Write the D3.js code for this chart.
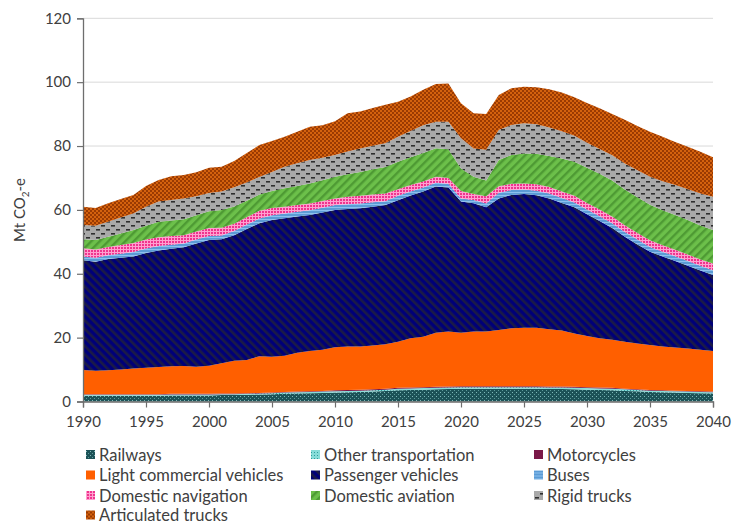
<!DOCTYPE html>
<html><head><meta charset="utf-8">
<script src="https://cdn.jsdelivr.net/npm/d3@7"></script>
<style>
body{margin:0;background:#fff;}
svg{display:block;font-family:Lato,"Liberation Sans",Arial,sans-serif;}
</style>
</head><body>
<svg id="chart" width="732" height="524"></svg>
<script>
const years = [1990,1991,1992,1993,1994,1995,1996,1997,1998,1999,
2000,2001,2002,2003,2004,2005,2006,2007,2008,2009,
2010,2011,2012,2013,2014,2015,2016,2017,2018,2019,
2020,2021,2022,2023,2024,2025,2026,2027,2028,2029,
2030,2031,2032,2033,2034,2035,2036,2037,2038,2039,2040];

const railways = [1.8,1.8,1.8,1.8,1.8,1.8,1.8,1.9,1.9,1.9, 1.9,2.0,2.0,2.1,2.2,2.3,2.4,2.5,2.6,2.7, 2.8,2.9,3.0,3.1,3.3,3.5,3.6,3.7,3.8,3.9, 4.0,4.0,4.0,4.0,4.0,4.0,4.0,3.9,3.9,3.8, 3.7,3.6,3.5,3.3,3.2,3.0,2.9,2.8,2.7,2.6, 2.5];
const otherTransport = [0.3,0.3,0.3,0.3,0.3,0.3,0.3,0.3,0.3,0.3, 0.3,0.3,0.3,0.3,0.3,0.3,0.4,0.4,0.4,0.4, 0.4,0.4,0.4,0.4,0.4,0.5,0.5,0.5,0.5,0.5, 0.5,0.5,0.5,0.5,0.5,0.5,0.5,0.5,0.5,0.5, 0.5,0.5,0.5,0.5,0.4,0.4,0.4,0.4,0.4,0.4, 0.4];
const motorcycles = [0.2,0.2,0.2,0.2,0.2,0.2,0.2,0.2,0.2,0.2, 0.2,0.2,0.2,0.2,0.2,0.2,0.2,0.2,0.2,0.2, 0.3,0.3,0.3,0.3,0.3,0.3,0.3,0.3,0.3,0.3, 0.3,0.3,0.3,0.3,0.3,0.3,0.3,0.3,0.3,0.3, 0.3,0.3,0.3,0.2,0.2,0.2,0.2,0.2,0.2,0.2, 0.2];
const lightCommercial = [7.6,7.3,7.5,7.7,8.0,8.3,8.5,8.6,8.7,8.5, 8.8,9.5,10.3,10.4,11.5,11.2,11.3,12.2,12.6,12.9, 13.5,13.6,13.5,13.7,13.9,14.4,15.4,15.8,16.9,17.2, 16.7,17.1,17.1,17.6,18.1,18.3,18.3,17.9,17.5,16.7, 16.0,15.4,15.0,14.7,14.4,14.1,13.7,13.5,13.3,13.0, 12.7];
const passenger = [34.3,34.2,34.8,35.0,35.1,35.9,36.5,36.8,37.2,38.6, 39.4,38.8,39.3,41.0,41.6,42.8,43.1,42.6,42.6,43.0, 43.0,43.1,43.3,43.5,43.6,44.3,44.7,45.5,45.8,45.1, 41.1,40.2,38.9,41.2,41.8,41.9,41.5,41.0,40.0,39.5, 38.1,36.7,35.0,32.9,31.0,29.2,28.2,27.1,25.9,24.8, 23.8];
const buses = [1.2,1.2,1.2,1.3,1.4,1.4,1.4,1.3,1.2,1.2, 1.2,1.2,1.3,1.4,1.5,1.5,1.5,1.5,1.5,1.5, 1.5,1.5,1.5,1.4,1.2,1.4,1.3,1.2,1.2,1.2, 1.0,1.0,1.2,1.8,1.5,1.4,1.4,1.5,1.5,1.5, 1.5,1.5,1.5,1.5,1.5,1.5,1.5,1.5,1.5,1.5, 1.5];
const navigation = [2.6,2.6,2.6,2.7,2.8,2.8,2.7,2.7,2.6,2.5, 2.5,2.4,2.3,2.3,2.4,2.3,2.1,2.1,2.1,2.1, 2.1,2.3,2.4,2.4,2.4,2.1,2.0,1.9,1.9,1.8, 2.3,1.9,2.3,2.0,2.0,1.9,2.0,2.1,2.1,2.1, 2.1,2.1,2.1,2.1,2.1,2.1,2.0,2.0,2.0,2.0, 2.1];
const aviation = [2.8,3.0,3.2,3.6,4.1,4.3,4.9,4.9,5.0,5.1, 5.3,5.6,5.4,5.2,5.1,5.3,5.8,6.0,6.3,6.5, 6.8,7.1,7.5,7.9,8.3,8.6,8.7,8.9,8.9,9.0, 7.1,5.4,4.9,8.2,9.0,9.4,9.6,9.7,10.3,10.7, 11.0,11.2,11.3,11.2,11.2,11.1,11.0,10.9,10.8,10.6, 10.5];
const rigidTrucks = [4.5,4.4,4.7,5.0,5.2,6.0,6.3,6.4,6.5,6.0, 5.7,5.8,6.0,5.7,5.5,6.0,6.7,7.1,7.3,7.0, 6.8,7.1,7.3,7.4,7.5,7.8,8.2,8.7,8.3,8.6, 9.4,8.8,9.6,9.4,9.4,9.4,9.2,8.9,8.5,8.1, 7.8,7.8,7.9,8.1,8.4,8.8,9.1,9.4,9.7,10.0, 10.4];
const articulated = [5.7,5.6,5.8,5.8,5.8,6.5,6.8,7.4,7.3,7.5, 7.9,7.7,8.2,9.2,10.0,9.7,9.4,9.9,10.4,10.2, 10.6,12.0,11.6,11.8,12.0,11.0,10.8,11.1,11.8,12.0, 11.0,11.1,11.2,11.0,11.5,11.5,11.6,12.0,12.2,12.1, 12.5,12.7,12.9,13.7,13.9,14.1,13.9,13.5,13.3,13.1, 12.4];

const seriesNames = ["Railways","Other transportation","Motorcycles","Light commercial vehicles","Passenger vehicles","Buses","Domestic navigation","Domestic aviation","Rigid trucks","Articulated trucks"];
const seriesValues = [railways, otherTransport, motorcycles, lightCommercial, passenger, buses, navigation, aviation, rigidTrucks, articulated];
const yTicks = [0,20,40,60,80,100,120];
const xTicks = [1990,1995,2000,2005,2010,2015,2020,2025,2030,2035,2040];

const svg = d3.select("#chart");
const defs = svg.append("defs");

function pat(id, w, h, bg, draw, transform){
  const p = defs.append("pattern").attr("id", id).attr("patternUnits","userSpaceOnUse")
    .attr("width", w).attr("height", h);
  if (transform) p.attr("patternTransform", transform);
  p.append("rect").attr("width", w).attr("height", h).attr("fill", bg);
  draw(p);
}
pat("p0", 4, 4, "#1c5257", p => {
  p.append("rect").attr("x",0).attr("y",0).attr("width",1).attr("height",1).attr("fill","#7fb8b8");
  p.append("rect").attr("x",2).attr("y",2).attr("width",1).attr("height",1).attr("fill","#5a9a9a");
});
pat("p1", 3, 3, "#86dcd8", p => {
  p.append("rect").attr("x",0).attr("y",0).attr("width",1).attr("height",1).attr("fill","#2f9c9c");
});
pat("p4", 6, 6, "#000078", p => {
  p.append("rect").attr("x",0).attr("y",0).attr("width",2.6).attr("height",6).attr("fill","#1b1b46");
}, "rotate(-45)");
pat("p5", 3, 3, "#5b9bd5", p => {
  p.append("rect").attr("x",0).attr("y",0).attr("width",3).attr("height",1).attr("fill","#8cc0ee");
});
pat("p6", 3, 3, "#f0348e", p => {
  p.append("rect").attr("x",0).attr("y",0).attr("width",3).attr("height",1).attr("fill","#ff9fcf");
  p.append("rect").attr("x",0).attr("y",0).attr("width",1).attr("height",3).attr("fill","#ff9fcf");
});
pat("p7", 6, 6, "#6cc04a", p => {
  p.append("rect").attr("x",0).attr("y",0).attr("width",2.4).attr("height",6).attr("fill","#4e9a34");
}, "rotate(45)");
pat("p8", 10, 8, "#a9a9a9", p => {
  p.append("rect").attr("x",1).attr("y",1).attr("width",4).attr("height",1.6).attr("fill","#2e2e2e");
  p.append("rect").attr("x",6).attr("y",5).attr("width",4).attr("height",1.6).attr("fill","#2e2e2e");
});
pat("p9", 4, 4, "#d4620e", p => {
  p.append("rect").attr("x",0).attr("y",0).attr("width",2).attr("height",2).attr("fill","#9a3a02");
  p.append("rect").attr("x",2).attr("y",2).attr("width",2).attr("height",2).attr("fill","#9a3a02");
});
const fills = ["url(#p0)","url(#p1)","#7a1848","#ff5f00","url(#p4)","url(#p5)","url(#p6)","url(#p7)","url(#p8)","url(#p9)"];

const rows = years.map((yr, i) => {
  const r = {year: yr};
  seriesNames.forEach((n, k) => r[n] = seriesValues[k][i]);
  return r;
});
const stacked = d3.stack().keys(seriesNames)(rows);

const x = d3.scaleLinear().domain([1990, 2040]).range([83, 713]);
const y = d3.scaleLinear().domain([0, 120]).range([401.5, 18.3]);

// gridlines
svg.append("g").selectAll("line").data(yTicks.filter(d => d > 0)).join("line")
  .attr("x1", 83).attr("x2", 713).attr("y1", d => y(d)).attr("y2", d => y(d))
  .attr("stroke", "#d9d9d9").attr("stroke-width", 1);

const area = d3.area().x(d => x(d.data.year)).y0(d => y(d[0])).y1(d => y(d[1]));
svg.append("g").selectAll("path").data(stacked).join("path")
  .attr("d", area).attr("fill", (d, i) => fills[i]);

// axes
const yAxis = svg.append("g").attr("transform", "translate(83,0)")
  .call(d3.axisLeft(y).tickValues(yTicks).tickSize(6).tickPadding(6));
const xAxis = svg.append("g").attr("transform", "translate(0,401.5)")
  .call(d3.axisBottom(x).tickValues(xTicks).tickFormat(d3.format("d")).tickSize(6).tickPadding(9));
[yAxis, xAxis].forEach(g => {
  g.select(".domain").attr("stroke", "#6e6e6e").attr("stroke-width", 1.3);
  g.selectAll(".tick line").attr("stroke", "#6e6e6e").attr("stroke-width", 1.2);
  g.selectAll("text").attr("fill", "#404040").style("font-size", "15px")
    .style("font-family", 'Lato,"Liberation Sans",Arial,sans-serif');
});

// y label
const yl = svg.append("text").attr("transform", "translate(25,210) rotate(-90)")
  .attr("text-anchor", "middle").attr("fill", "#404040").style("font-size", "15px");
yl.append("tspan").text("Mt CO");
yl.append("tspan").text("2").style("font-size", "10px").attr("dy", 4);
yl.append("tspan").text("-e").attr("dy", -4);

// legend
const colX = [86, 311, 534];
const rowY = [455, 475.5, 496, 515.5];
const leg = svg.append("g").selectAll("g").data(seriesNames).join("g")
  .attr("transform", (d, i) => `translate(${colX[i % 3]},${rowY[Math.floor(i / 3)]})`);
leg.append("rect").attr("x", 0).attr("y", -5).attr("width", 9).attr("height", 9)
  .attr("fill", (d, i) => fills[i]);
leg.append("text").attr("x", 13).attr("y", 0).attr("dy", "0.35em")
  .attr("fill", "#404040").style("font-size", "16.5px").text(d => d);
</script>
</body></html>
